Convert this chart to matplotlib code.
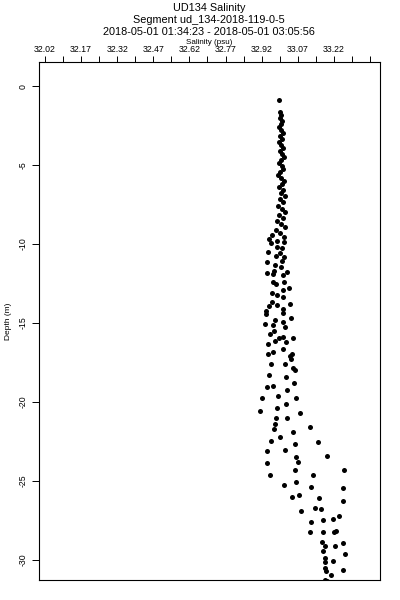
import matplotlib
matplotlib.use("Agg")
import matplotlib.pyplot as plt

plt.rcParams['font.family'] = ['Liberation Sans', 'DejaVu Sans']

# Salinity profile (psu) and depth (m)
salinity = [
    32.994, 32.996, 33.001, 32.996, 33.005, 33.001, 32.992, 33.001, 33.009, 32.996,
    33.005, 32.992, 33.001, 33.009, 32.996, 33.005, 33.013, 33.001, 32.992, 33.005,
    33.009, 32.996, 32.988, 33.001, 33.013, 33.005, 32.992, 33.009, 33.001, 33.017,
    32.996, 33.009, 32.988, 33.005, 33.017, 32.992, 33.009, 32.984, 33.001, 33.017,
    32.980, 32.996, 32.963, 33.013, 32.950, 32.984,
    32.958, 33.013, 32.983, 33.004, 32.948, 32.996, 32.980, 33.013, 33.004, 32.944,
    32.976, 32.999, 32.972, 32.941, 33.024, 32.969, 33.008, 33.013, 32.966, 32.980,
    33.035, 33.008, 32.962, 32.983, 33.010, 32.962, 33.038, 32.952, 32.983, 33.010,
    32.938, 32.938, 33.008, 33.041, 32.976, 32.934, 32.969, 33.008, 33.017, 32.955,
    32.972, 33.049, 32.994, 33.010, 32.976, 33.021, 32.948, 33.010, 32.966, 32.948,
    33.045, 33.038, 33.041, 32.958, 33.017, 33.052, 33.060, 32.952, 33.021, 33.055,
    32.941, 32.969, 33.024, 32.989, 32.920, 33.063, 33.021, 32.983, 32.913,
    33.080, 32.980, 33.024, 32.976, 32.972, 33.121, 33.049, 32.996, 32.958, 33.155,
    33.060, 32.941, 33.017, 33.193, 33.063, 33.071, 32.941, 33.060, 33.263, 32.955,
    33.132, 33.063, 33.013, 33.124, 33.260, 33.045, 33.074, 33.160, 33.260, 33.143,
    33.166, 33.083, 33.241, 33.218, 33.174, 33.127, 33.121, 33.177, 33.221, 33.230,
    33.170, 33.182, 33.227, 33.257, 33.177, 33.268, 33.182, 33.185, 33.216, 33.182,
    33.188, 33.260, 33.210, 33.185, 33.191, 33.246,
]
depth = [
    -0.89, -1.65, -1.84, -2.03, -2.23, -2.42, -2.61, -2.80, -2.99, -3.18,
    -3.37, -3.56, -3.75, -3.94, -4.13, -4.32, -4.51, -4.70, -4.90, -5.09,
    -5.28, -5.47, -5.66, -5.85, -6.04, -6.23, -6.42, -6.61, -6.80, -6.99,
    -7.18, -7.37, -7.57, -7.76, -7.95, -8.14, -8.33, -8.52, -8.71, -8.90,
    -9.09, -9.28, -9.41, -9.54, -9.67, -9.79,
    -9.96, -9.90, -10.17, -10.25, -10.53, -10.60, -10.74, -10.85, -11.11, -11.17,
    -11.32, -11.44, -11.70, -11.84, -11.81, -11.91, -11.95, -12.44, -12.44, -12.54,
    -12.80, -12.92, -13.08, -13.22, -13.39, -13.65, -13.78, -13.92, -13.86, -14.13,
    -14.24, -14.45, -14.35, -14.70, -14.83, -15.09, -15.13, -14.98, -15.26, -15.68,
    -15.51, -15.94, -15.94, -15.89, -16.15, -16.19, -16.32, -16.68, -16.83, -16.95,
    -16.95, -17.10, -17.31, -17.59, -17.59, -17.85, -18.01, -18.31, -18.44, -18.80,
    -19.05, -19.01, -19.28, -19.64, -19.79, -19.75, -20.13, -20.39, -20.60,
    -20.71, -21.06, -21.02, -21.44, -21.70, -21.61, -21.91, -22.25, -22.46, -22.55,
    -22.68, -23.14, -23.03, -23.41, -23.52, -23.84, -23.90, -24.33, -24.30, -24.62,
    -24.62, -25.11, -25.30, -25.41, -25.47, -26.05, -25.92, -26.11, -26.32, -26.75,
    -26.83, -26.95, -27.27, -27.46, -27.51, -27.63, -28.27, -28.23, -28.23, -28.18,
    -28.86, -29.16, -29.12, -28.97, -29.45, -29.67, -29.88, -30.13, -30.09, -30.56,
    -30.72, -30.64, -30.98, -31.32, -31.36, -31.41,
]

sal_ticks = [32.02, 32.095, 32.17, 32.245, 32.32, 32.395, 32.47, 32.545, 32.62,
             32.695, 32.77, 32.845, 32.92, 32.995, 33.07, 33.145, 33.22, 33.295, 33.37]
sal_labels = ["32.02", "", "32.17", "", "32.32", "", "32.47", "", "32.62", "",
              "32.77", "", "32.92", "", "33.07", "", "33.22", "", ""]
depth_ticks = [0, -5, -10, -15, -20, -25, -30]

fig = plt.figure(figsize=(4, 6), dpi=100)
ax = fig.add_axes([0.0975, 0.0333, 0.8525, 0.8634])

ax.plot(salinity, depth, 'o', color='black', markersize=3.6, markeredgewidth=0)

ax.set_xlim(31.995, 33.412)
ax.set_ylim(-31.3, 1.53)

ax.xaxis.tick_top()
ax.xaxis.set_label_position('top')
ax.set_xticks(sal_ticks)
ax.set_xticklabels(sal_labels)
ax.set_yticks(depth_ticks)
ax.set_yticklabels([str(t) for t in depth_ticks], rotation=90, va='center')

ax.tick_params(axis='x', direction='out', length=4.3, width=0.7, labelsize=6.3, pad=1.8)
ax.tick_params(axis='y', direction='out', length=5, width=0.7, labelsize=6.3, pad=3)

ax.set_xlabel("Salinity (psu)", fontsize=5.8, labelpad=0.5)
ax.set_ylabel("Depth (m)", fontsize=6, labelpad=5)

for s in ax.spines.values():
    s.set_linewidth(0.8)

fig.text(0.5225, 0.987, "UD134 Salinity", ha='center', va='center', fontsize=7.8)
fig.text(0.5225, 0.9665, "Segment ud_134-2018-119-0-5", ha='center', va='center', fontsize=7.8)
fig.text(0.5225, 0.9465, "2018-05-01 01:34:23 - 2018-05-01 03:05:56",
         ha='center', va='center', fontsize=7.8)

fig.savefig("out.png", dpi=100)
